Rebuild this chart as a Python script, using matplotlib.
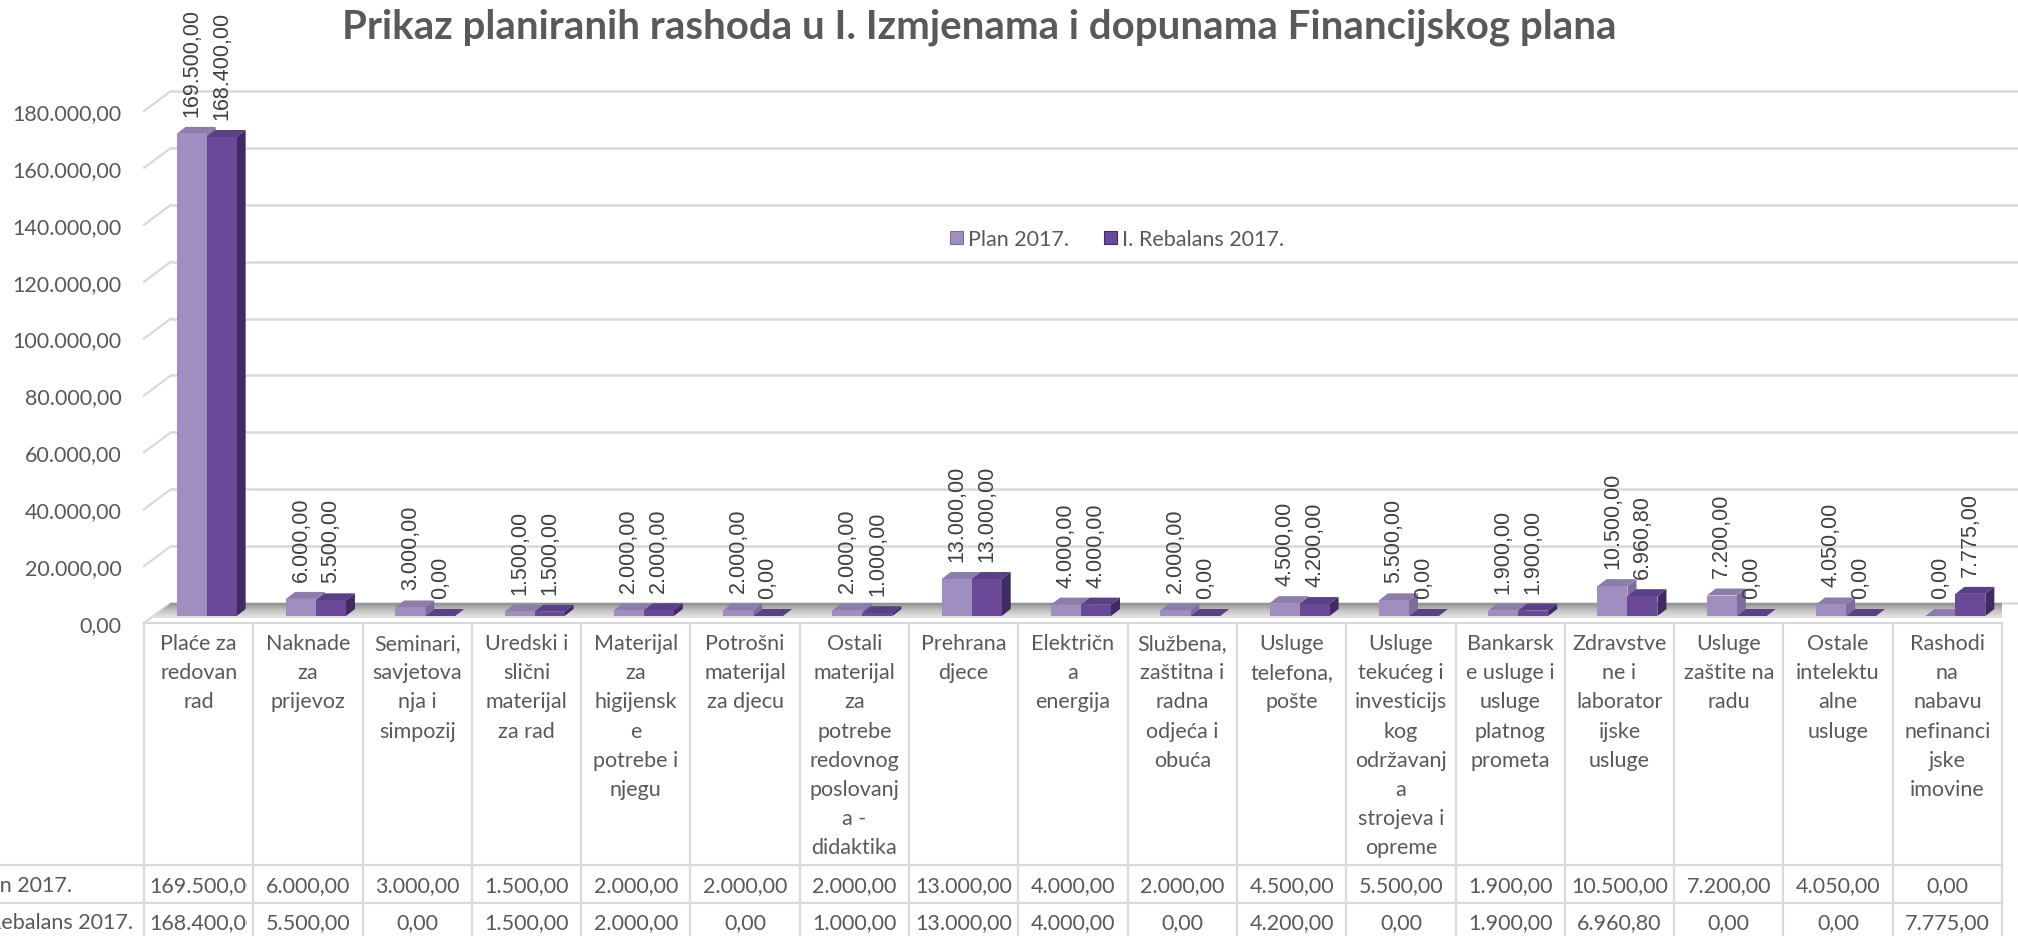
import matplotlib
matplotlib.use("Agg")
import matplotlib.pyplot as plt
import numpy as np
from matplotlib.patches import Polygon, Patch
from matplotlib.lines import Line2D
from matplotlib.colors import LinearSegmentedColormap
from matplotlib.transforms import blended_transform_factory, Bbox, TransformedBbox

# ---------------- data ----------------
categories = [
    "Plaće za\nredovan\nrad",
    "Naknade\nza\nprijevoz",
    "Seminari,\nsavjetova\nnja i\nsimpozij",
    "Uredski i\nslični\nmaterijal\nza rad",
    "Materijal\nza\nhigijensk\ne\npotrebe i\nnjegu",
    "Potrošni\nmaterijal\nza djecu",
    "Ostali\nmaterijal\nza\npotrebe\nredovnog\nposlovanj\na -\ndidaktika",
    "Prehrana\ndjece",
    "Električn\na\nenergija",
    "Službena,\nzaštitna i\nradna\nodjeća i\nobuća",
    "Usluge\ntelefona,\npošte",
    "Usluge\ntekućeg i\ninvesticijs\nkog\nodržavanj\na\nstrojeva i\nopreme",
    "Bankarsk\ne usluge i\nusluge\nplatnog\nprometa",
    "Zdravstve\nne i\nlaborator\nijske\nusluge",
    "Usluge\nzaštite na\nradu",
    "Ostale\nintelektu\nalne\nusluge",
    "Rashodi\nna\nnabavu\nnefinanci\njske\nimovine",
]
plan_2017 = [169500, 6000, 3000, 1500, 2000, 2000, 2000, 13000, 4000, 2000,
             4500, 5500, 1900, 10500, 7200, 4050, 0]
rebalans_2017 = [168400, 5500, 0, 1500, 2000, 0, 1000, 13000, 4000, 0,
                 4200, 0, 1900, 6960.80, 0, 0, 7775]
series_names = ["Plan 2017.", "I. Rebalans 2017."]
y_ticks = [0, 20000, 40000, 60000, 80000, 100000, 120000, 140000, 160000, 180000]
title = "Prikaz planiranih rashoda u I. Izmjenama i dopunama Financijskog plana"


def eu(v):
    s = f"{v:,.2f}"
    return s.replace(",", "X").replace(".", ",").replace("X", ".")


# ---------------- style ----------------
TXT = "#595959"
GRID = "#D9D9D9"
FONT = "Lato"
FS = 15.5
plan_front, plan_top, plan_side = "#A08EC1", "#8C7DAA", "#7D6C9E"
reb_front, reb_top, reb_side = "#6A4A98", "#594087", "#3F2A62"

W, H = 2018, 937
fig = plt.figure(figsize=(W / 100, H / 100), dpi=100)


def fx(px):
    return px / W


def fy(py):
    return 1 - py / H


left_px, right_px = 144, 2002
zero_px, top_px = 624, 112
ax = fig.add_axes([fx(left_px), fy(zero_px), (right_px - left_px) / W, (zero_px - top_px) / H])
n = len(categories)
ax.set_xlim(-0.5, n - 0.5)
ax.set_ylim(0, y_ticks[-1])
ax.patch.set_visible(False)
for s in ax.spines.values():
    s.set_visible(False)
ax.set_xticks([])
ax.set_yticks(y_ticks)
ax.yaxis.set_major_formatter(matplotlib.ticker.FuncFormatter(lambda v, p: eu(v)))
ax.tick_params(axis="y", length=0, pad=16, labelsize=FS, labelcolor=TXT)
for lab in ax.get_yticklabels():
    lab.set_fontfamily(FONT)

kx = n / (right_px - left_px)            # data units per pixel (x)
ky = y_ticks[-1] / (zero_px - top_px)    # data units per pixel (y)

# back wall gridlines + diagonal connectors
wdx, wdy = 27, 20
for v in y_ticks:
    ax.plot([-0.5 + wdx * kx, n - 0.5 + 60 * kx], [v + wdy * ky] * 2,
            color=GRID, lw=1.8, clip_on=False, zorder=1, solid_capstyle="butt")
    ax.plot([-0.5, -0.5 + wdx * kx], [v, v + wdy * ky],
            color=GRID, lw=1.6, clip_on=False, zorder=1)

# floor
f0x, f0y = 7, 5
floor = Polygon([(-0.5 + f0x * kx, f0y * ky), (n - 0.5 + 40 * kx, f0y * ky),
                 (n - 0.5 + 60 * kx, wdy * ky), (-0.5 + wdx * kx, wdy * ky)],
                closed=True, transform=ax.transData)
cmap = LinearSegmentedColormap.from_list("floor", ["#e6e6e6", "#c4c4c4", "#8f8f8f"])
im = ax.imshow(np.linspace(0, 1, 64).reshape(-1, 1), cmap=cmap, origin="lower",
               extent=[-0.5, n - 0.5 + 60 * kx, f0y * ky, wdy * ky],
               aspect="auto", zorder=2, interpolation="bilinear")
im.set_clip_box(None)
im.set_clip_path(floor)
ax.set_xlim(-0.5, n - 0.5)
ax.set_ylim(0, y_ticks[-1])

# bars (3D look)
bw = 30 * kx
shift = 8 * kx
base = 7 * ky
ddx, ddy = 9 * kx, 7 * ky
idx = np.arange(n)
x_plan = idx - bw / 2 + shift
x_reb = idx + bw / 2 + shift

series = [(x_plan, plan_2017, plan_front, plan_top, plan_side, 3.0),
          (x_reb, rebalans_2017, reb_front, reb_top, reb_side, 3.5)]
for xs, vals, cf, ct, cs, z in series:
    ax.bar(xs, vals, bw, bottom=base, color=cf, linewidth=0, zorder=z + 0.2)
    for xc, v in zip(xs, vals):
        x0, x1 = xc - bw / 2, xc + bw / 2
        top = base + v
        ax.add_patch(Polygon([(x0, top), (x1, top), (x1 + ddx, top + ddy), (x0 + ddx, top + ddy)],
                             closed=True, facecolor=ct, edgecolor="none", zorder=z + 0.1))
        ax.add_patch(Polygon([(x1, base), (x1, top), (x1 + ddx, top + ddy), (x1 + ddx, base + ddy)],
                             closed=True, facecolor=cs, edgecolor="none", zorder=z))
        ax.annotate(eu(v), xy=(xc, top), xytext=(0, 13), textcoords="offset points",
                    rotation=90, ha="center", va="bottom", fontsize=15.5,
                    family="Liberation Sans", color="#404040", annotation_clip=False,
                    zorder=6)

# ---------------- data table ----------------
tt = blended_transform_factory(ax.transData, fig.transFigure)
for k in range(n + 1):
    ax.plot([k - 0.5] * 2, [fy(zero_px), fy(H + 10)], transform=tt, color=GRID,
            lw=1.6, clip_on=False, zorder=1)
ax.plot([-0.5, n - 0.5], [fy(zero_px)] * 2, transform=tt, color=GRID, lw=1.6,
        clip_on=False, zorder=1)
for yy in (866, 904):
    fig.add_artist(Line2D([0, fx(right_px)], [fy(yy)] * 2, color=GRID, lw=1.6))

line_h = 29.2
for i, lab in enumerate(categories):
    for k, line in enumerate(lab.split("\n")):
        ax.text(i, fy(650 + k * line_h), line, transform=tt, ha="center", va="baseline",
                fontsize=FS, family=FONT, color=TXT, clip_on=False)

fig.canvas.draw()
renderer = fig.canvas.get_renderer()
col_px = (right_px - left_px) / n
for row_y, vals in ((892, plan_2017), (929, rebalans_2017)):
    for i, v in enumerate(vals):
        t = ax.text(i, fy(row_y), eu(v), transform=tt, ha="center", va="baseline",
                    fontsize=FS, family=FONT, color=TXT)
        bb = t.get_window_extent(renderer)
        if bb.width > col_px - 10:
            # overflowing cell: left aligned and clipped, as in the spreadsheet
            t.set_ha("left")
            t.set_x(i - 0.5 + 5 * kx)
            t.set_clip_box(TransformedBbox(Bbox([[i - 0.5, 0], [i + 0.5 - 6 * kx, 1]]), tt))
            t.set_clip_on(True)

fig.text(fx(-29), fy(892), series_names[0], ha="left", va="baseline",
         fontsize=FS, family=FONT, color=TXT)
fig.text(fx(-29), fy(929), series_names[1], ha="left", va="baseline",
         fontsize=FS, family=FONT, color=TXT)

# ---------------- title & legend ----------------
fig.text(fx(979), fy(38), title, ha="center", va="baseline", fontsize=29,
         fontweight="bold", family=FONT, color=TXT)

handles = [Patch(facecolor=plan_front, edgecolor="#7d6c9e", linewidth=0.8),
           Patch(facecolor=reb_front, edgecolor="#3f2a62", linewidth=0.8)]
fig.legend(handles, series_names, loc="center left", bbox_to_anchor=(fx(950), fy(240)),
           ncol=2, frameon=False, prop={"family": FONT, "size": FS}, labelcolor=TXT,
           handlelength=0.6, handleheight=0.6, handletextpad=0.25, columnspacing=1.6,
           borderpad=0, borderaxespad=0)

fig.savefig("out.png", dpi=100)
